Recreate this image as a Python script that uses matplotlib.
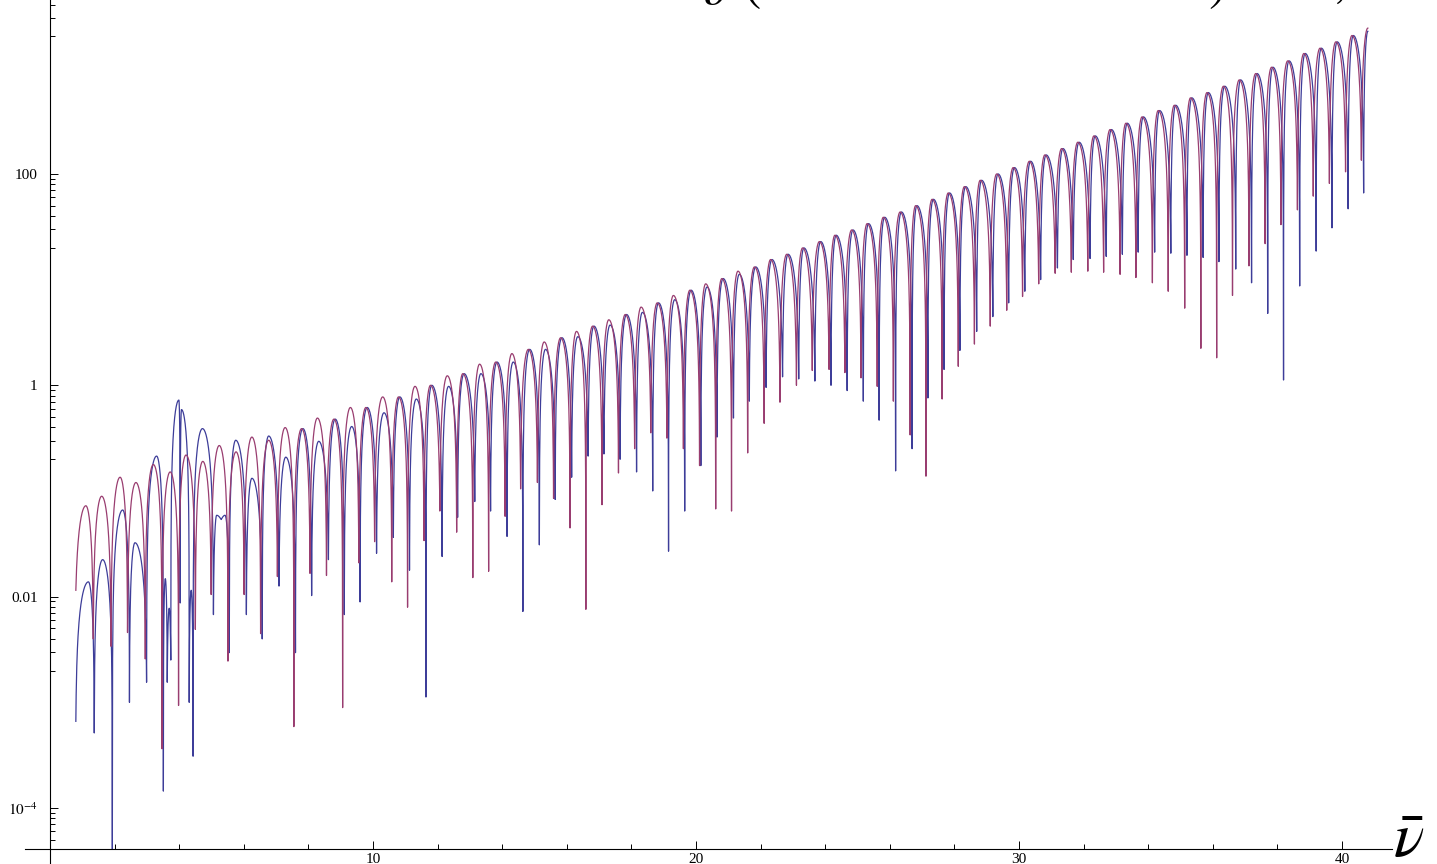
import numpy as np
import matplotlib.pyplot as plt
from matplotlib.ticker import FixedLocator, FixedFormatter, NullFormatter

plt.rcParams['mathtext.fontset'] = 'stix'
plt.rcParams['font.family'] = ['Liberation Serif', 'DejaVu Serif']

# each curve is stored as alternating local minima / maxima (x, log10 y)
purple_dip_x = [0.80, 1.34, 1.89, 2.40, 2.95, 3.47, 3.98, 4.50, 4.99, 5.51, 6.01, 6.52, 7.04, 7.55,
                8.05, 8.56, 9.06, 9.56, 10.05, 10.58, 11.07, 11.58, 12.07, 12.59, 13.09, 13.58,
                14.09, 14.57, 15.09, 15.59, 16.10, 16.59, 17.09, 17.60, 18.10, 18.60, 19.10, 19.61,
                20.11, 20.61, 21.10, 21.60, 22.11, 22.60, 23.11, 23.60, 24.12, 24.61, 25.11, 25.61,
                26.11, 26.63, 27.12, 27.62, 28.12, 28.62, 29.11, 29.62, 30.11, 30.61, 31.12, 31.62,
                32.13, 32.62, 33.13, 33.62, 34.13, 34.62, 35.13, 35.63, 36.12, 36.61, 37.12, 37.62,
                38.11, 38.62, 39.11, 39.61, 40.11, 40.60]
purple_dip_log = [-1.94, -2.40, -2.47, -2.34, -2.59, -3.44, -3.03, -2.31, -1.98, -2.61, -1.98, -2.35, -1.81, -3.23,
                  -1.78, -1.80, -3.05, -1.68, -1.48, -1.86, -2.10, -1.47, -1.19, -1.39, -1.82, -1.76,
                  -1.24, -0.98, -0.92, -1.07, -1.35, -2.12, -1.13, -0.83, -0.60, -0.45, -0.50, -0.60,
                  -0.76, -1.17, -1.19, -0.64, -0.36, -0.16, 0.00, 0.14, 0.15, 0.12, 0.07, -0.01,
                  -0.15, -0.47, -0.86, -0.13, 0.18, 0.39, 0.56, 0.71, 0.84, 0.96, 1.06, 1.07,
                  1.08, 1.07, 1.05, 1.02, 0.97, 0.89, 0.73, 0.35, 0.26, 0.85, 1.13, 1.34,
                  1.52, 1.66, 1.79, 1.91, 2.02, 2.13]
purple_peak_x = [1.11, 1.60, 2.17, 2.66, 3.20, 3.72, 4.21, 4.73, 5.24, 5.76, 6.25, 6.77, 7.28,
                 7.79, 8.28, 8.79, 9.30, 9.78, 10.30, 10.79, 11.30, 11.78, 12.30, 12.78, 13.30,
                 13.80, 14.30, 14.81, 15.30, 15.81, 16.30, 16.80, 17.30, 17.81, 18.30, 18.80, 19.30,
                 19.81, 20.30, 20.80, 21.30, 21.81, 22.31, 22.81, 23.30, 23.82, 24.30, 24.82, 25.30,
                 25.80, 26.32, 26.80, 27.31, 27.81, 28.31, 28.80, 29.31, 29.82, 30.32, 30.80, 31.32,
                 31.82, 32.32, 32.82, 33.31, 33.81, 34.31, 34.81, 35.31, 35.82, 36.33, 36.82, 37.33,
                 37.82, 38.32, 38.82, 39.32, 39.81, 40.31, 40.80]
purple_peak_log = [-1.14, -1.05, -0.87, -0.92, -0.75, -0.82, -0.66, -0.72, -0.57, -0.63, -0.49, -0.52, -0.40,
                   -0.41, -0.31, -0.32, -0.21, -0.21, -0.11, -0.11, -0.01, 0.00, 0.09, 0.11, 0.20,
                   0.22, 0.30, 0.34, 0.41, 0.45, 0.51, 0.56, 0.62, 0.67, 0.74, 0.78, 0.85,
                   0.90, 0.96, 1.01, 1.08, 1.12, 1.19, 1.24, 1.30, 1.36, 1.42, 1.47, 1.53,
                   1.59, 1.64, 1.70, 1.76, 1.82, 1.88, 1.94, 2.00, 2.06, 2.12, 2.18, 2.24,
                   2.30, 2.36, 2.42, 2.48, 2.54, 2.60, 2.65, 2.72, 2.77, 2.83, 2.89, 2.95,
                   3.01, 3.07, 3.14, 3.19, 3.25, 3.31, 3.38]

blue_dip_x = [0.80, 1.37, 1.93, 2.46, 2.99, 3.51, 3.63, 3.74, 4.03, 4.31, 4.43, 5.06, 5.30, 5.55,
              6.08, 6.57, 7.09, 7.60,
              8.10, 8.62, 9.11, 9.60, 10.11, 10.63, 11.13, 11.64, 12.14, 12.62, 13.15, 13.64,
              14.15, 14.64, 15.15, 15.64, 16.15, 16.66, 17.15, 17.65, 18.16, 18.66, 19.15, 19.65,
              20.15, 20.65, 21.16, 21.65, 22.17, 22.68, 23.18, 23.68, 24.18, 24.68, 25.18, 25.67,
              26.18, 26.69, 27.18, 27.68, 28.17, 28.69, 29.19, 29.68, 30.18, 30.67, 31.19, 31.68,
              32.20, 32.70, 33.20, 33.69, 34.20, 34.70, 35.20, 35.70, 36.19, 36.71, 37.20, 37.70,
              38.19, 38.69, 39.20, 39.69, 40.19, 40.67]
blue_dip_log = [-3.18, -3.29, -4.39, -3.00, -2.81, -3.84, -2.81, -2.60, -2.06, -3.00, -3.51, -2.17, -1.27, -2.53,
                -2.17, -2.40, -1.90, -2.53,
                -1.99, -1.65, -2.17, -2.05, -1.59, -1.44, -1.75, -2.95, -1.62, -1.25, -1.10, -1.19,
                -1.43, -2.14, -1.51, -1.08, -0.87, -0.67, -0.65, -0.70, -0.82, -1.00, -1.57, -1.19,
                -0.76, -0.49, -0.31, -0.15, -0.02, 0.08, 0.06, 0.04, 0.00, -0.05, -0.15, -0.33,
                -0.81, -0.60, -0.12, 0.15, 0.33, 0.51, 0.65, 0.78, 0.89, 1.00, 1.11, 1.19,
                1.20, 1.22, 1.24, 1.26, 1.26, 1.25, 1.23, 1.21, 1.17, 1.10, 0.97, 0.68,
                0.05, 0.94, 1.27, 1.49, 1.67, 1.82]
blue_peak_x = [1.19, 1.63, 2.25, 2.63, 3.30, 3.57, 3.69, 3.99, 4.07, 4.37, 4.72, 5.16, 5.42,
               5.75, 6.25, 6.77, 7.30,
               7.83, 8.32, 8.83, 9.34, 9.82, 10.34, 10.83, 11.34, 11.82, 12.34, 12.82, 13.34,
               13.84, 14.34, 14.85, 15.34, 15.85, 16.34, 16.84, 17.34, 17.85, 18.34, 18.84, 19.34,
               19.85, 20.34, 20.84, 21.34, 21.85, 22.35, 22.85, 23.34, 23.86, 24.34, 24.86, 25.34,
               25.84, 26.36, 26.84, 27.35, 27.85, 28.35, 28.84, 29.35, 29.86, 30.36, 30.84, 31.36,
               31.86, 32.36, 32.86, 33.35, 33.85, 34.35, 34.85, 35.35, 35.86, 36.37, 36.86, 37.37,
               37.86, 38.36, 38.86, 39.36, 39.85, 40.35, 40.80]
blue_peak_log = [-1.86, -1.65, -1.18, -1.49, -0.67, -1.83, -2.11, -0.14, -0.23, -1.94, -0.41, -1.23, -1.23,
                 -0.52, -0.88, -0.48, -0.68,
                 -0.41, -0.53, -0.32, -0.39, -0.21, -0.26, -0.11, -0.13, 0.00, -0.01, 0.11, 0.11,
                 0.22, 0.22, 0.34, 0.34, 0.45, 0.46, 0.56, 0.57, 0.67, 0.69, 0.78, 0.81,
                 0.90, 0.93, 1.01, 1.05, 1.12, 1.19, 1.24, 1.30, 1.36, 1.42, 1.47, 1.53,
                 1.59, 1.64, 1.70, 1.76, 1.82, 1.88, 1.94, 2.00, 2.06, 2.12, 2.18, 2.24,
                 2.30, 2.36, 2.42, 2.48, 2.54, 2.60, 2.65, 2.72, 2.77, 2.83, 2.89, 2.95,
                 3.01, 3.07, 3.14, 3.19, 3.25, 3.31, 3.35]

y_major = [1e-4, 1e-2, 1, 100]
y_major_labels = [r'$10^{-4}$', '0.01', '1', '100']
x_major = [10, 20, 30, 40]

BLUE = '#3d3d99'
PURPLE = '#993d70'


def trace(dip_x, dip_log, peak_x, peak_log, n=40):
    # join the minima and maxima with quarter-sine pieces
    pts = []
    for dx, dl, px, pl in zip(dip_x, dip_log, peak_x, peak_log):
        pts.append((dx, 10.0 ** dl, True))
        pts.append((px, 10.0 ** pl, False))
    xs, ys = [], []
    t = np.linspace(0, 1, n, endpoint=False)
    for (x0, y0, low), (x1, y1, _) in zip(pts[:-1], pts[1:]):
        if low:
            y = y0 + (y1 - y0) * np.sin(np.pi / 2 * t)
        else:
            y = y1 + (y0 - y1) * np.cos(np.pi / 2 * t)
        xs.append(x0 + (x1 - x0) * t)
        ys.append(y)
    xs.append([pts[-1][0]])
    ys.append([pts[-1][1]])
    return np.concatenate(xs), np.concatenate(ys)


fig = plt.figure(figsize=(14.37, 8.64), dpi=100)
ax = fig.add_axes([25 / 1437, 0, 1367 / 1437, 1])
ax.patch.set_alpha(0)

bx, by = trace(blue_dip_x, blue_dip_log, blue_peak_x, blue_peak_log)
px_, py_ = trace(purple_dip_x, purple_dip_log, purple_peak_x, purple_peak_log)
ax.plot(bx, by, color=BLUE, lw=0.9)
ax.plot(px_, py_, color=PURPLE, lw=0.9)

ax.set_yscale('log')
ax.set_xlim(-25 / 32.3, 1342 / 32.3)
ax.set_ylim(10 ** -4.53, 10 ** 3.646)
y_axis = 10 ** -4.39

for s in ('top', 'right'):
    ax.spines[s].set_visible(False)
ax.spines['left'].set_position(('data', 0))
ax.spines['bottom'].set_position(('data', y_axis))
for s in ('left', 'bottom'):
    ax.spines[s].set_linewidth(0.8)

ax.xaxis.set_major_locator(FixedLocator(x_major))
ax.xaxis.set_minor_locator(FixedLocator([v for v in range(2, 41, 2) if v % 10]))
ax.yaxis.set_major_locator(FixedLocator(y_major))
ax.yaxis.set_major_formatter(FixedFormatter(y_major_labels))
y_minor = [m * 10.0 ** e for e in (-5, -3, -1, 1, 3) for m in range(2, 10)]
ax.yaxis.set_minor_locator(FixedLocator([v for v in y_minor if y_axis < v < 10 ** 3.646]))
ax.yaxis.set_minor_formatter(NullFormatter())
ax.tick_params(which='both', direction='in', width=0.7, labelsize=11, pad=3)
ax.tick_params(axis='y', which='major', pad=9)
ax.tick_params(which='major', length=6)
ax.tick_params(which='minor', length=3.5)

fig.text(1393 / 1437, 7 / 864, r'$\bar{\nu}$', fontsize=46, ha='left', va='baseline')

# plot label, mostly above the top edge (pixel x, glyph, baseline offset in px)
for xpix, s, dy in [(700, r'$\vartheta$', -4), (742, r'$($', 1), (1208, r'$)$', 1), (1332, r'$,$', 4)]:
    fig.text(xpix / 1437, 1 + dy / 864, s, fontsize=40, ha='left', va='baseline')

fig.savefig('out.png', dpi=100)
